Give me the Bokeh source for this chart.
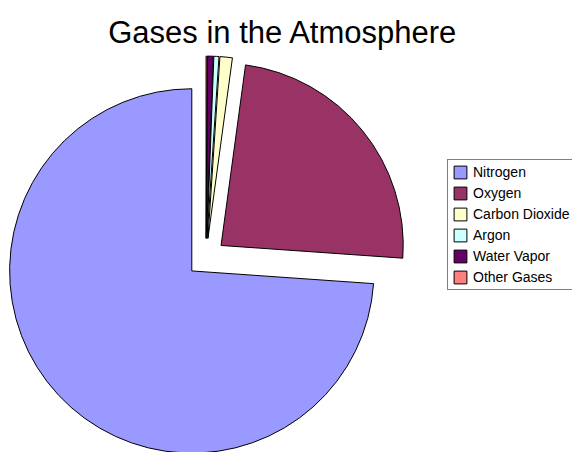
import math
from bokeh.plotting import figure
from bokeh.models import ColumnDataSource, Range1d, Label, Legend, LegendItem
from bokeh.embed import file_html
from bokeh.resources import INLINE

# ---- data ----
gases = ["Nitrogen", "Oxygen", "Carbon Dioxide", "Argon", "Water Vapor", "Other Gases"]
percent = [74.0, 24.0, 1.1, 0.45, 0.5, 0.1]
colors = ["#9999FF", "#993366", "#FFFFCC", "#CCFFFF", "#660066", "#FF8080"]
title_text = "Gases in the Atmosphere"

W, H = 572, 452
cx, cy = 205.5, 194.8      # pie centre (pixel-like data units)
radius = 182.2
explode = 19.4

total = sum(percent)
starts, ends, xs, ys = [], [], [], []
a = math.pi / 2
for v in percent:
    span = v / total * 2 * math.pi
    s, e = a, a + span
    mid = (s + e) / 2
    starts.append(s)
    ends.append(e)
    xs.append(cx + explode * math.cos(mid))
    ys.append(cy + explode * math.sin(mid))
    a = e

src = ColumnDataSource(dict(x=xs, y=ys, start=starts, end=ends, color=colors, name=gases))

p = figure(width=W, height=H, output_backend="svg", toolbar_location=None, title=None,
           x_range=Range1d(0, W), y_range=Range1d(0, H),
           min_border=0, min_border_left=0, min_border_right=0,
           min_border_top=0, min_border_bottom=0)
p.axis.visible = False
p.grid.visible = False
p.outline_line_color = None
p.background_fill_color = "white"
p.border_fill_color = "white"

r = p.wedge(x="x", y="y", radius=radius, start_angle="start", end_angle="end",
            fill_color="color", line_color="black", line_width=1, source=src)

title = Label(x=282.6, y=420.1, text=title_text, text_align="center",
              text_baseline="alphabetic", text_font="Liberation Sans",
              text_font_size="31px", text_color="black")
p.add_layout(title)

items = [LegendItem(label=g, renderers=[r], index=i) for i, g in enumerate(gases)]
legend = Legend(items=items, location=(447, 162), orientation="vertical",
                label_text_font="Liberation Sans", label_text_font_size="14px",
                label_text_color="black",
                glyph_width=16, glyph_height=16, label_height=16, label_standoff=5,
                label_width=110,
                spacing=5, padding=4, margin=0,
                border_line_color="black", border_line_width=1,
                background_fill_color="white", background_fill_alpha=1.0)
p.add_layout(legend, "center")

open("out.html", "w").write(file_html(p, INLINE))
